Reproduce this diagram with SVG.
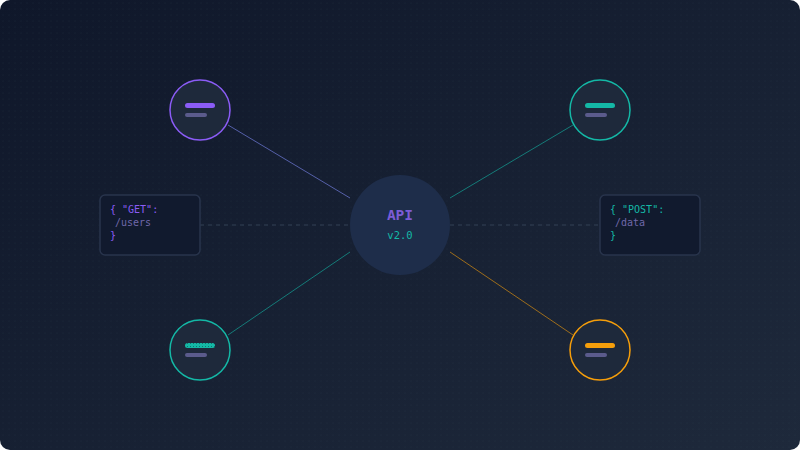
<svg xmlns="http://www.w3.org/2000/svg" width="800" height="450" viewBox="0 0 800 450">
  <defs>
    <linearGradient id="bg" x1="0" y1="0" x2="1" y2="1">
      <stop offset="0" stop-color="#0f172a"/>
      <stop offset="1" stop-color="#1e293b"/>
    </linearGradient>
    <pattern id="dots" width="6" height="6" patternUnits="userSpaceOnUse">
      <circle cx="3" cy="3" r="0.6" fill="#334155" fill-opacity="0.3"/>
    </pattern>
    <pattern id="hatch" width="3" height="3" patternUnits="userSpaceOnUse">
      <rect width="3" height="3" fill="#14b8a6"/>
      <rect x="1" y="1" width="1" height="1" fill="#0f766e"/>
    </pattern>
    <style>
      .node-ring { fill: #1e293b; stroke-width: 1.5; }
      .bar2 { fill: #5b5b8c; }
      .link { stroke-width: 1; fill: none; stroke-opacity: 0.6; }
      .dash { stroke: #334155; stroke-width: 1; stroke-dasharray: 4 4; fill: none; }
      .box { fill: #111a2e; stroke: #28344c; stroke-width: 1.5; }
      .mono { font-family: "DejaVu Sans Mono", "Liberation Mono", monospace; }
      .code { font-size: 10px; }
      .path { fill: #7068aa; }
    </style>
  </defs>
  <rect width="800" height="450" rx="10" fill="url(#bg)"/>
  <rect width="800" height="450" rx="10" fill="url(#dots)"/>

  <g id="connectors">
    <line class="link" x1="228" y1="125" x2="350" y2="198" stroke="#818cf8"/>
    <line class="link" x1="450" y1="198" x2="573" y2="125" stroke="#14b8a6"/>
    <line class="link" x1="228" y1="335" x2="350" y2="252" stroke="#14b8a6"/>
    <line class="link" x1="450" y1="252" x2="573" y2="335" stroke="#f59e0b"/>
    <line class="dash" x1="200" y1="225" x2="350" y2="225"/>
    <line class="dash" x1="450" y1="225" x2="600" y2="225"/>
  </g>

  <g id="api">
    <circle cx="400" cy="225" r="50" fill="#1e2d4a"/>
    <text class="mono" x="400" y="220" text-anchor="middle" font-size="14.5" font-weight="bold" fill="#7c5cd6">API</text>
    <text class="mono" x="400" y="239" text-anchor="middle" font-size="10.5" fill="#14b8a6">v2.0</text>
  </g>

  <g id="node-tl">
    <circle class="node-ring" cx="200" cy="110" r="30" stroke="#8b5cf6"/>
    <rect x="185" y="103" width="30" height="5" rx="2.5" fill="#8b5cf6"/>
    <rect class="bar2" x="185" y="113" width="22" height="4" rx="2"/>
  </g>
  <g id="node-tr">
    <circle class="node-ring" cx="600" cy="110" r="30" stroke="#14b8a6"/>
    <rect x="585" y="103" width="30" height="5" rx="2.5" fill="#14b8a6"/>
    <rect class="bar2" x="585" y="113" width="22" height="4" rx="2"/>
  </g>
  <g id="node-bl">
    <circle class="node-ring" cx="200" cy="350" r="30" stroke="#14b8a6"/>
    <rect x="185" y="343" width="30" height="5" rx="2.5" fill="url(#hatch)"/>
    <rect class="bar2" x="185" y="353" width="22" height="4" rx="2"/>
  </g>
  <g id="node-br">
    <circle class="node-ring" cx="600" cy="350" r="30" stroke="#f59e0b"/>
    <rect x="585" y="343" width="30" height="5" rx="2.5" fill="#f59e0b"/>
    <rect class="bar2" x="585" y="353" width="22" height="4" rx="2"/>
  </g>

  <g id="box-get">
    <rect class="box" x="100" y="195" width="100" height="60" rx="5"/>
    <text class="mono code" x="110" y="213" fill="#8b5cf6">{ "GET":</text>
    <text class="mono code path" x="115" y="226">/users</text>
    <text class="mono code" x="110" y="239" fill="#8b5cf6">}</text>
  </g>
  <g id="box-post">
    <rect class="box" x="600" y="195" width="100" height="60" rx="5"/>
    <text class="mono code" x="610" y="213" fill="#14b8a6">{ "POST":</text>
    <text class="mono code path" x="615" y="226">/data</text>
    <text class="mono code" x="610" y="239" fill="#14b8a6">}</text>
  </g>
</svg>
